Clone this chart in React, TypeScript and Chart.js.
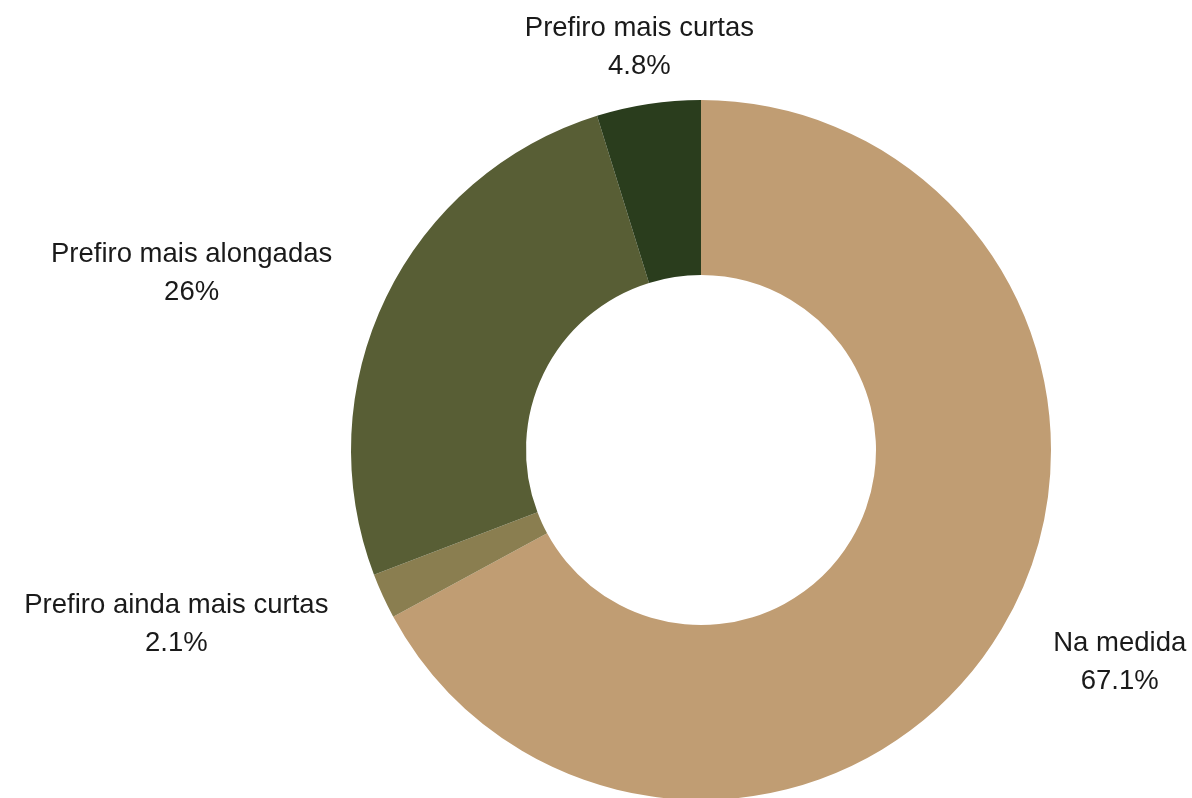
import React, { useEffect, useRef } from "react";
import { Chart, registerables } from "chart.js";

Chart.register(...registerables);

const categories = ["Na medida", "Prefiro ainda mais curtas", "Prefiro mais alongadas", "Prefiro mais curtas"];
const values = [67.1, 2.1, 26, 4.8];
const valueLabels = ["67.1%", "2.1%", "26%", "4.8%"];
const colors = ["#C09D73", "#8A7E50", "#585E35", "#2A3D1D"];

const labelPlugin = {
  id: "outsideLabels",
  afterDraw(chart: any) {
    const ctx = chart.ctx;
    const meta = chart.getDatasetMeta(0);
    ctx.save();
    ctx.font = "27.5px Arial, 'Liberation Sans', sans-serif";
    ctx.fillStyle = "#1a1a1a";
    ctx.textBaseline = "middle";
    ctx.textAlign = "center";
    meta.data.forEach((arc: any, i: number) => {
      const { x, y, startAngle, endAngle, outerRadius } = arc.getProps(
        ["x", "y", "startAngle", "endAngle", "outerRadius"],
        true
      );
      const mid = (startAngle + endAngle) / 2;
      const r = outerRadius + 60;
      const lx = x + Math.cos(mid) * r;
      const ly = y + Math.sin(mid) * r + 3;
      const c = Math.cos(mid);
      const w = Math.max(ctx.measureText(categories[i]).width, ctx.measureText(valueLabels[i]).width);
      let cx = lx;
      if (c > 0.25) cx = lx + w / 2;
      else if (c < -0.25) cx = lx - w / 2;
      ctx.fillText(categories[i], cx, ly - 19);
      ctx.fillText(valueLabels[i], cx, ly + 19);
    });
    ctx.restore();
  },
};

export default function App() {
  const ref = useRef<HTMLCanvasElement>(null);
  useEffect(() => {
    if (!ref.current) return;
    const chart = new Chart(ref.current, {
      type: "doughnut",
      data: {
        labels: categories,
        datasets: [
          {
            data: values,
            backgroundColor: colors,
            borderWidth: 0,
            radius: 350,
          } as any,
        ],
      },
      options: {
        responsive: false,
        animation: false,
        cutout: "50%",
        layout: { padding: { left: 210, right: 0, top: 102, bottom: 0 } },
        plugins: {
          legend: { display: false },
          tooltip: { enabled: false },
        },
      },
      plugins: [labelPlugin],
    });
    return () => chart.destroy();
  }, []);
  return (
    <div style={{ position: "fixed", left: 0, top: 0, width: 1192, height: 798, background: "#fff" }}>
      <canvas ref={ref} width={1192} height={798} style={{ width: 1192, height: 798 }} />
    </div>
  );
}
